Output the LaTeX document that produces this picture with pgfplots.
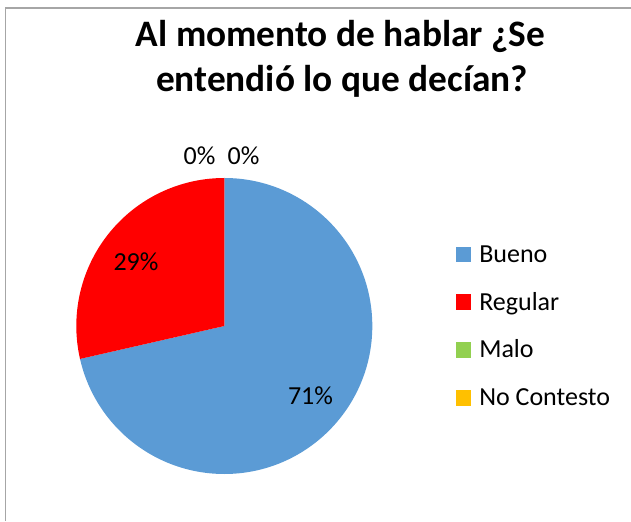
\documentclass[border=0pt]{standalone}
\usepackage{pgfplots}
\pgfplotsset{compat=1.18}
\usepackage{fontspec}
\setmainfont{Carlito}
\definecolor{bueno}{HTML}{5B9BD5}
\definecolor{regular}{HTML}{FF0000}
\definecolor{malo}{HTML}{92D050}
\definecolor{nocont}{HTML}{FFC000}
\definecolor{borde}{HTML}{A6A6A6}
% counts: Bueno, Regular, Malo, No Contesto
\def\vA{5}\def\vB{2}\def\vC{0}\def\vD{0}
\pgfmathsetmacro{\tot}{\vA+\vB+\vC+\vD}
\pgfmathsetmacro{\aA}{90-360*\vA/\tot}
\pgfmathsetmacro{\aB}{\aA-360*\vB/\tot}
\pgfmathsetmacro{\aC}{\aB-360*\vC/\tot}
\pgfmathsetmacro{\aD}{\aC-360*\vD/\tot}
\begin{document}
\begin{tikzpicture}
\useasboundingbox (0,0) rectangle (473.25pt,390.75pt);
\begin{axis}[at={(0,0)},anchor=south west,scale only axis,
  width=473.25pt,height=390.75pt,xmin=0,xmax=631,ymin=0,ymax=521,
  hide axis,clip=false]
\draw[borde,line width=1.1pt] (axis cs:5.5,0) -- (axis cs:5.5,513) -- (axis cs:631,513);
% pie slices
\fill[bueno] (axis cs:224.3,195) -- ++(90:111pt) arc[start angle=90,end angle=\aA,radius=111pt] -- cycle;
\fill[regular] (axis cs:224.3,195) -- ++(\aA:111pt) arc[start angle=\aA,end angle=\aB,radius=111pt] -- cycle;
% data labels
\node[anchor=base,font=\fontsize{19.5pt}{22pt}\selectfont,inner sep=0pt] at (axis cs:310.5,116.7) {71\%};
\node[anchor=base,font=\fontsize{19.5pt}{22pt}\selectfont,inner sep=0pt] at (axis cs:136,250.3) {29\%};
\node[anchor=base,font=\fontsize{19.5pt}{22pt}\selectfont,inner sep=0pt] at (axis cs:199.5,356) {0\%};
\node[anchor=base,font=\fontsize{19.5pt}{22pt}\selectfont,inner sep=0pt] at (axis cs:243.5,356) {0\%};
% title
\node[anchor=base,font=\fontsize{28pt}{34pt}\selectfont\bfseries,inner sep=0pt] at (axis cs:340.5,474.3) {Al momento de hablar ¿Se};
\node[anchor=base,font=\fontsize{28pt}{34pt}\selectfont\bfseries,inner sep=0pt] at (axis cs:342,429.5) {entendió lo que decían?};
% legend
\fill[bueno] (axis cs:456,258.7) rectangle (axis cs:471,274.3);
\fill[regular] (axis cs:456,210.9) rectangle (axis cs:471,226.5);
\fill[malo] (axis cs:456,163.1) rectangle (axis cs:471,178.7);
\fill[nocont] (axis cs:456,115.3) rectangle (axis cs:471,130.9);
\node[anchor=base west,font=\fontsize{19.5pt}{22pt}\selectfont,inner sep=0pt] at (axis cs:479,258.7) {Bueno};
\node[anchor=base west,font=\fontsize{19.5pt}{22pt}\selectfont,inner sep=0pt] at (axis cs:479,210.9) {Regular};
\node[anchor=base west,font=\fontsize{19.5pt}{22pt}\selectfont,inner sep=0pt] at (axis cs:479,163.1) {Malo};
\node[anchor=base west,font=\fontsize{19.5pt}{22pt}\selectfont,inner sep=0pt] at (axis cs:479,115.3) {No Contesto};
\end{axis}
\end{tikzpicture}
\end{document}
